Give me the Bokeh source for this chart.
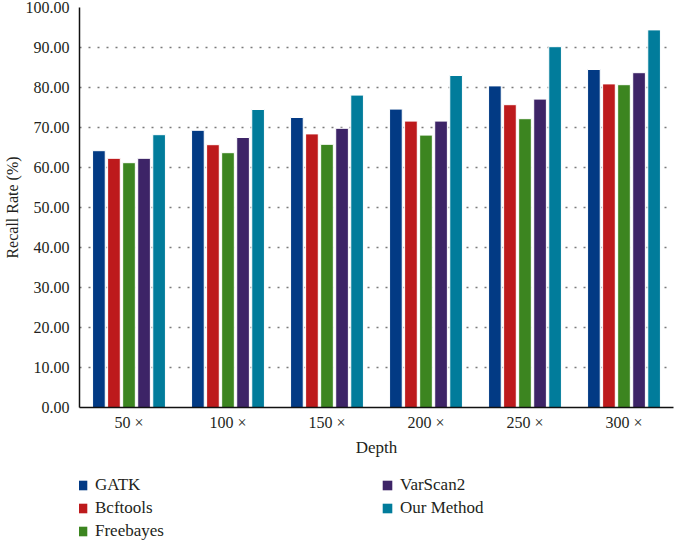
from bokeh.plotting import figure
from bokeh.models import Legend, LegendItem, ColumnDataSource, FactorRange
from bokeh.layouts import column
from bokeh.transform import dodge
from bokeh.embed import file_html
from bokeh.resources import INLINE

depths = ["50 ×", "100 ×", "150 ×", "200 ×", "250 ×", "300 ×"]
gatk = [64.2, 69.3, 72.5, 74.6, 80.4, 84.5]
bcftools = [62.3, 65.7, 68.4, 71.6, 75.7, 80.9]
freebayes = [61.2, 63.7, 65.8, 68.1, 72.2, 80.7]
varscan2 = [62.3, 67.5, 69.8, 71.6, 77.1, 83.7]
our_method = [68.2, 74.5, 78.1, 83.0, 90.2, 94.4]

series = [
    ("GATK", "gatk", gatk, "#023a84"),
    ("Bcftools", "bcftools", bcftools, "#bd1a1c"),
    ("Freebayes", "freebayes", freebayes, "#3c8520"),
    ("VarScan2", "varscan2", varscan2, "#3d2467"),
    ("Our Method", "our", our_method, "#017c9b"),
]

data = {"depth": depths}
for name, key, vals, col in series:
    data[key] = vals
src = ColumnDataSource(data)

FONT = "Liberation Serif"
TXT = "#231f20"

p = figure(x_range=FactorRange(*depths, range_padding=0), y_range=(0, 100),
           width=675, height=467, output_backend="svg", toolbar_location=None,
           min_border_left=68, min_border_right=2, min_border_top=7,
           min_border_bottom=60)
p.outline_line_color = None

step = 0.152
for i, (name, key, vals, col) in enumerate(series):
    p.vbar(x=dodge("depth", (i - 2) * step, range=p.x_range), top=key, width=0.128,
           source=src, fill_color=col, line_color="white", line_width=1)

p.xgrid.grid_line_color = None
p.ygrid.grid_line_color = "#7a7a7a"
p.ygrid.grid_line_dash = "2 7"
p.ygrid.grid_line_width = 1.3

p.yaxis.ticker = list(range(0, 101, 10))
p.yaxis.major_label_overrides = {v: f"{v:.2f}" for v in range(0, 101, 10)}
p.yaxis.axis_label = "Recall Rate (%)"
p.xaxis.axis_label = "Depth"
for ax in (p.xaxis, p.yaxis):
    ax.major_tick_line_color = None
    ax.minor_tick_line_color = None
    ax.axis_line_color = "#111111"
    ax.axis_line_width = 1.5
    ax.major_label_text_font = FONT
    ax.major_label_text_font_size = "16px"
    ax.major_label_text_color = TXT
    ax.axis_label_text_font = FONT
    ax.axis_label_text_font_style = "normal"
    ax.axis_label_text_color = TXT
p.xaxis.axis_label_text_font_size = "17px"
p.yaxis.axis_label_text_font_size = "16px"
p.xaxis.major_label_standoff = 0
p.yaxis.major_label_standoff = 4
p.xaxis.axis_label_standoff = 4
p.yaxis.axis_label_standoff = 2

# legend panel below the chart (its bars lie out of view; only the legend shows)
lg = figure(width=675, height=73, output_backend="svg", toolbar_location=None,
            x_axis_type=None, y_axis_type=None,
            x_range=FactorRange(*depths, range_padding=0), y_range=(1000, 1001),
            min_border=0)
lg.outline_line_color = None
lg.xgrid.grid_line_color = None
lg.ygrid.grid_line_color = None
items = {}
for name, key, vals, col in series:
    r = lg.vbar(x="depth", top=key, width=0.1, source=src,
                fill_color=col, line_color=None)
    items[name] = LegendItem(label=name, renderers=[r])

order = ["GATK", "VarScan2", "Bcftools", "Our Method", "Freebayes"]
legend = Legend(items=[items[n] for n in order], ncols=2, orientation="horizontal",
                location=(-3, -1),
                glyph_width=12, glyph_height=12, label_standoff=7,
                label_width=283, label_height=20, spacing=3,
                label_text_font=FONT, label_text_font_size="17px",
                label_text_color=TXT, border_line_color=None,
                background_fill_alpha=0, margin=0, padding=0)
lg.add_layout(legend, "center")

layout = column(p, lg, spacing=0)
open("out.html", "w").write(file_html(layout, INLINE))
